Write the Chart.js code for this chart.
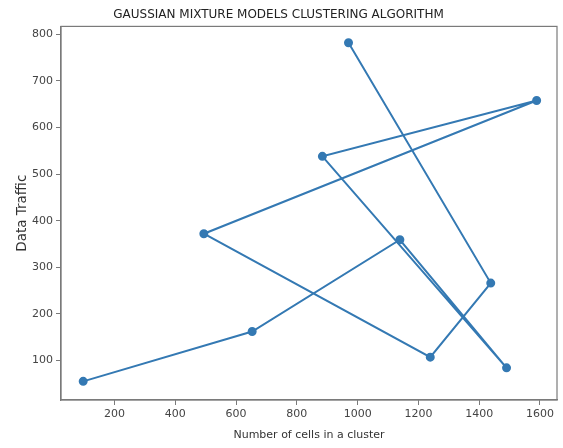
<!DOCTYPE html>
<html>
<head>
<meta charset="utf-8">
<script src="https://cdn.jsdelivr.net/npm/chart.js@4/dist/chart.umd.min.js"></script>
<style>
  html, body { margin: 0; padding: 0; background: #fff; }
  #wrap { width: 563px; height: 448px; }
</style>
</head>
<body>
<div id="wrap"><canvas id="gmm"></canvas></div>
<script>
'use strict';

// ── data (in plotting order) ────────────────────────────────────────────────
const cellsX   = [97, 653, 1139, 1490, 884, 1589, 494, 1239, 1438, 970];
const trafficY = [55, 162, 359, 84, 538, 658, 372, 107, 266, 782];
const xTicks   = [200, 400, 600, 800, 1000, 1200, 1400, 1600];
const yTicks   = [100, 200, 300, 400, 500, 600, 700, 800];

const LINE  = '#3479b3';
const AXIS  = '#7a7a7a';
const TEXT  = '#444';

const points = cellsX.map((x, i) => ({ x, y: trafficY[i] }));

// matplotlib-ish frame: top + right spines
const framePlugin = {
  id: 'frame',
  afterDraw(chart) {
    const { ctx, chartArea: a } = chart;
    ctx.save();
    ctx.strokeStyle = AXIS;
    ctx.lineWidth = 1.2;
    ctx.strokeRect(a.left, a.top, a.right - a.left, a.bottom - a.top);
    ctx.restore();
  },
};

new Chart(document.getElementById('gmm').getContext('2d'), {
  type: 'scatter',
  data: {
    datasets: [{
      data: points,
      showLine: true,
      borderColor: LINE,
      backgroundColor: LINE,
      borderWidth: 2,
      pointRadius: 3.5,
      pointHoverRadius: 3.5,
    }],
  },
  options: {
    responsive: true, maintainAspectRatio: false, animation: false,
    layout: { padding: { left: 0, right: 6, top: 0, bottom: 0 } },
    plugins: {
      legend:  { display: false },
      tooltip: { enabled: false },
      title: {
        display: true,
        text: 'GAUSSIAN MIXTURE MODELS CLUSTERING ALGORITHM',
        color: '#222',
        font: { family: "'DejaVu Sans'", size: 12, weight: 'normal' },
        padding: { top: 8, bottom: 4 },
      },
    },
    scales: {
      x: {
        type: 'linear', min: 24, max: 1656,
        afterBuildTicks: s => { s.ticks = xTicks.map(v => ({ value: v })); },
        afterFit: s => { s.height = 48; },
        grid:   { drawOnChartArea: false, drawTicks: true, tickLength: 5, color: AXIS },
        border: { color: AXIS, width: 1.2 },
        ticks:  { color: TEXT, padding: 3, font: { family: "'DejaVu Sans'", size: 11 },
                  callback: v => String(v) },
        title:  { display: true, text: 'Number of cells in a cluster', color: '#333',
                  padding: { top: 2, bottom: 6 }, font: { family: "'DejaVu Sans'", size: 11 } },
      },
      y: {
        type: 'linear', min: 15, max: 817,
        afterBuildTicks: s => { s.ticks = yTicks.map(v => ({ value: v })); },
        afterFit: s => { s.width = 61; },
        grid:   { drawOnChartArea: false, drawTicks: true, tickLength: 5, color: AXIS },
        border: { color: AXIS, width: 1.2 },
        ticks:  { color: TEXT, padding: 3, font: { family: "'DejaVu Sans'", size: 11 },
                  callback: v => String(v) },
        title:  { display: true, text: 'Data Traffic', color: '#333',
                  padding: { top: 14, bottom: 4 }, font: { family: "'DejaVu Sans'", size: 13.5 } },
      },
    },
  },
  plugins: [framePlugin],
});
</script>
</body>
</html>
